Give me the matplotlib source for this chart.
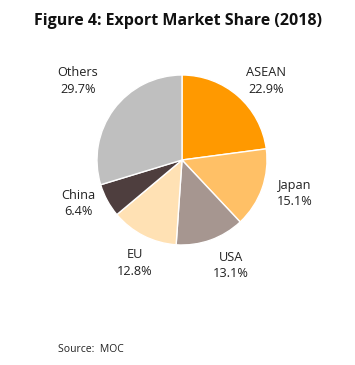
import numpy as np
import matplotlib
matplotlib.use("Agg")
import matplotlib.pyplot as plt

categories = ["ASEAN", "Japan", "USA", "EU", "China", "Others"]
shares = [22.9, 15.1, 13.1, 12.8, 6.4, 29.7]
colors = ["#FF9900", "#FFC066", "#A69690", "#FFE1B4", "#4E3E3E", "#BFBFBF"]
# label centres, in pie-radius units relative to the pie centre
label_xy = [(0.988, 0.929), (1.329, -0.394), (0.576, -1.241),
            (-0.553, -1.212), (-1.224, -0.512), (-1.224, 0.929)]

W, H = 355, 365
fig = plt.figure(figsize=(W / 100, H / 100), dpi=100)
fig.patch.set_facecolor("white")

cx, cy, R = 182, 160, 85
lim = 1.6
half = R * lim
ax = fig.add_axes([(cx - half) / W, (H - cy - half) / H, 2 * half / W, 2 * half / H])

wedges, _ = ax.pie(shares, colors=colors, startangle=90, counterclock=False,
                   radius=1.0, wedgeprops=dict(linewidth=1.0, edgecolor="white"))
ax.set_xlim(-lim, lim)
ax.set_ylim(-lim, lim)
ax.set_aspect("equal")
ax.axis("off")

font = "Open Sans"
for cat, v, (lx, ly) in zip(categories, shares, label_xy):
    ax.text(lx, ly, f"{cat}\n{v:.1f}%", ha="center", va="center",
            fontsize=9.2, family=font, color="#222222", linespacing=1.38)

fig.text(178 / W, 1 - 21 / H, "Figure 4: Export Market Share (2018)", ha="center", va="center",
         fontsize=11.5, fontweight="bold", family=font, color="#111111")
fig.text(58 / W, 1 - 350 / H, "Source:  MOC", ha="left", va="center",
         fontsize=7.5, family=font, color="#222222")

fig.savefig("out.png", dpi=100, facecolor="white")
